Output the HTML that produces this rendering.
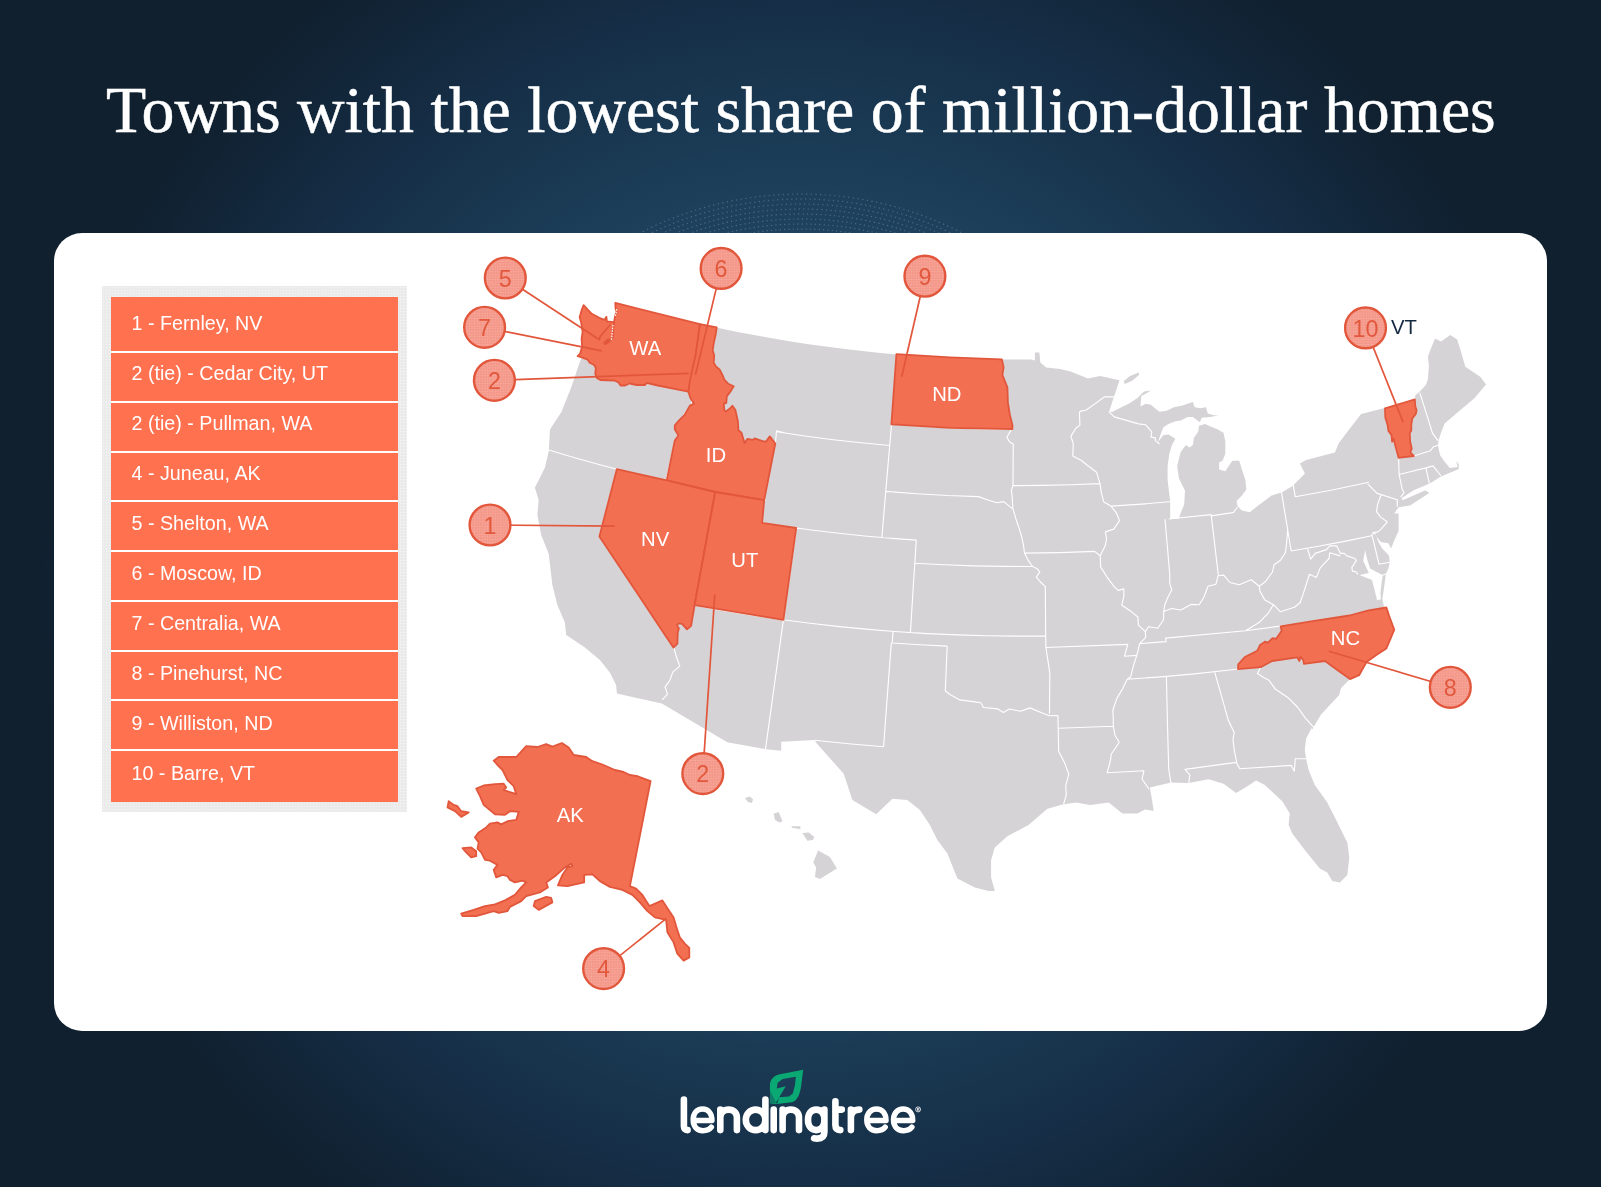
<!DOCTYPE html>
<html><head><meta charset="utf-8"><title>Towns with the lowest share of million-dollar homes</title>
<style>
html,body{margin:0;padding:0}
body{width:1601px;height:1187px;position:relative;overflow:hidden;font-family:"Liberation Sans",sans-serif;
background:#10202f radial-gradient(circle 760px at 800px 593px,#204863 0%,#1f4561 45%,#152d45 79%,#10202f 100%);}
#title{position:absolute;left:105.5px;top:70px;margin:0;font-family:"Liberation Serif",serif;font-weight:normal;font-size:65.8px;-webkit-text-stroke:0.5px #fff;line-height:80px;color:#fff;white-space:nowrap;letter-spacing:0}
#card{position:absolute;left:54px;top:233px;width:1493px;height:798px;background:#fff;border-radius:28px}
#frame{position:absolute;left:102px;top:286px;width:305px;height:526px;background:#ebebeb radial-gradient(circle,#f6f6f6 0.7px,rgba(246,246,246,0) 1px);background-size:3px 3px}
#list{position:absolute;left:111px;top:297px;width:287px;height:505px;background:#fff;margin:0;padding:0;list-style:none}
#list li{position:absolute;left:0;width:287px;background:#ff714f;color:#fff;font-size:19.7px;box-sizing:border-box;padding-left:20.5px;white-space:nowrap}
#map{position:absolute;left:0;top:0;will-change:transform}
#title,#list{will-change:transform}
.lbl{font-family:"Liberation Sans",sans-serif;font-size:20.3px;fill:#fff;text-anchor:middle}
.num{font-family:"Liberation Sans",sans-serif;font-size:23.3px;fill:#e2583d;text-anchor:middle}
</style></head><body>
<h1 id="title">Towns with the lowest share of million-dollar homes</h1>
<svg id="arcs" width="1601" height="1187" style="position:absolute;left:0;top:0"><g fill="none" stroke="#fff" stroke-opacity="0.2" stroke-width="1.4" stroke-linecap="round"><circle cx="801" cy="546" r="352" stroke-dasharray="0.1 4.60" stroke-dashoffset="0.0"/><circle cx="801" cy="546" r="347" stroke-dasharray="0.1 4.55" stroke-dashoffset="2.3"/><circle cx="801" cy="546" r="342" stroke-dasharray="0.1 4.50" stroke-dashoffset="0.0"/><circle cx="801" cy="546" r="337" stroke-dasharray="0.1 4.45" stroke-dashoffset="2.3"/><circle cx="801" cy="546" r="332" stroke-dasharray="0.1 4.40" stroke-dashoffset="0.0"/><circle cx="801" cy="546" r="327" stroke-dasharray="0.1 4.35" stroke-dashoffset="2.3"/><circle cx="801" cy="546" r="322" stroke-dasharray="0.1 4.30" stroke-dashoffset="0.0"/><circle cx="801" cy="546" r="317" stroke-dasharray="0.1 4.25" stroke-dashoffset="2.3"/></g></svg>
<div id="card"></div>
<div id="frame"></div>

<ul id="list">
<li style="top:0.00px;height:53.75px;line-height:22px;padding-top:15.37px">1 - Fernley, NV</li>
<li style="top:55.75px;height:48.00px;line-height:22px;padding-top:9.55px">2 (tie) - Cedar City, UT</li>
<li style="top:105.75px;height:48.00px;line-height:22px;padding-top:9.47px">2 (tie) - Pullman, WA</li>
<li style="top:155.75px;height:47.65px;line-height:22px;padding-top:9.40px">4 - Juneau, AK</li>
<li style="top:205.40px;height:47.80px;line-height:22px;padding-top:9.67px">5 - Shelton, WA</li>
<li style="top:255.20px;height:47.70px;line-height:22px;padding-top:9.79px">6 - Moscow, ID</li>
<li style="top:304.90px;height:47.80px;line-height:22px;padding-top:10.02px">7 - Centralia, WA</li>
<li style="top:354.70px;height:47.70px;line-height:22px;padding-top:10.14px">8 - Pinehurst, NC</li>
<li style="top:404.40px;height:47.90px;line-height:22px;padding-top:10.37px">9 - Williston, ND</li>
<li style="top:454.30px;height:50.50px;line-height:22px;padding-top:10.40px">10 - Barre, VT</li>
</ul>
<svg id="map" width="1601" height="1187" viewBox="0 0 1601 1187">
<defs><pattern id="dots" width="2.6" height="2.6" patternUnits="userSpaceOnUse"><rect width="2.6" height="2.6" fill="#f4988a"/><circle cx="1.3" cy="1.3" r="0.7" fill="#f9b0a3"/></pattern></defs>
<path d="M616.3,302.6 L631.3,306.8 L646.3,310.9 L661.4,314.8 L676.5,318.5 L691.6,322.1 L706.8,325.5 L722.0,328.8 L737.3,331.9 L752.6,334.8 L767.9,337.6 L783.2,340.2 L798.6,342.7 L814.0,345.0 L829.4,347.1 L844.9,349.0 L860.3,350.8 L875.8,352.4 L891.3,353.9 L906.8,355.2 L922.3,356.3 L937.9,357.3 L953.4,358.1 L969.0,358.7 L984.5,359.2 L1000.1,359.5 L1015.7,359.6 L1031.2,359.6 L1034.9,360.4 L1034.9,352.4 L1039.4,352.4 L1040.3,362.4 L1046.1,367.4 L1060.0,368.9 L1070.5,371.5 L1088.0,378.5 L1100.2,375.9 L1119.5,380.2 L1109.0,411.7 L1112.5,411.7 L1119.5,408.2 L1130.0,403.0 L1137.8,397.7 L1143.9,391.6 L1150.9,390.4 L1147.4,392.8 L1141.3,396.0 L1140.4,406.5 L1145.7,403.8 L1150.9,404.7 L1157.1,410.0 L1159.7,411.7 L1166.7,410.8 L1173.7,407.3 L1182.4,405.6 L1192.9,402.1 L1194.7,407.3 L1199.9,408.2 L1206.0,407.3 L1207.8,413.5 L1213.9,415.2 L1218.3,415.2 L1210.4,416.9 L1201.7,417.8 L1199.9,422.2 L1192.9,416.9 L1187.7,416.9 L1180.7,420.4 L1175.4,421.3 L1168.4,423.9 L1163.2,427.4 L1160.6,434.4 L1157.9,442.3 L1163.2,435.3 L1168.4,434.4 L1175.4,438.8 L1171.9,444.9 L1169.3,453.7 L1167.6,465.9 L1167.6,479.9 L1169.3,493.9 L1170.2,502.6 L1170.2,519.3 L1178.9,518.4 L1180.7,513.1 L1184.2,504.4 L1185.0,490.4 L1178.9,478.2 L1177.2,465.9 L1180.7,451.9 L1185.9,444.9 L1189.4,447.6 L1192.9,444.9 L1193.8,437.9 L1198.2,431.8 L1199.0,425.7 L1205.2,423.9 L1210.4,426.6 L1217.4,429.2 L1223.5,432.7 L1225.3,441.4 L1225.3,453.7 L1222.6,460.7 L1219.1,462.4 L1219.1,469.4 L1225.3,471.2 L1232.3,460.7 L1239.3,460.7 L1241.9,469.4 L1245.4,479.9 L1246.3,489.5 L1241.9,495.6 L1236.6,500.9 L1237.5,506.1 L1241.9,510.5 L1249.8,512.3 L1257.6,506.1 L1271.6,495.6 L1282.1,492.2 L1292.6,486.0 L1304.8,473.8 L1304.9,473.6 L1299.9,463.6 L1306.2,459.9 L1334.9,452.4 L1338.6,443.6 L1344.9,434.9 L1361.1,414.1 L1384.9,407.9 L1414.8,399.4 L1415.3,395.2 L1419.3,392.1 L1425.9,385.0 L1427.9,378.9 L1428.9,365.8 L1427.9,356.7 L1430.5,349.6 L1435.0,338.5 L1441.1,341.5 L1450.2,335.0 L1457.2,339.5 L1461.3,352.7 L1465.3,366.8 L1480.5,376.9 L1486.0,384.5 L1474.4,398.2 L1461.3,409.3 L1444.6,423.5 L1441.1,432.6 L1438.5,440.6 L1438.0,445.7 L1440.1,455.3 L1444.1,460.9 L1449.7,467.9 L1457.7,466.9 L1456.2,460.9 L1458.8,464.4 L1458.8,468.9 L1441.1,476.5 L1428.9,484.1 L1442.8,476.3 L1430.2,483.3 L1413.7,490.2 L1401.7,498.1 L1402.6,500.3 L1425.1,490.5 L1429.5,492.7 L1420.1,499.1 L1410.0,505.6 L1398.6,507.3 L1394.2,513.6 L1398.6,513.6 L1398.6,530.7 L1394.2,540.8 L1391.0,548.4 L1388.5,543.3 L1380.9,542.0 L1377.1,537.6 L1375.6,534.5 L1378.4,542.0 L1382.1,548.4 L1387.2,553.4 L1389.1,555.9 L1389.7,562.3 L1388.5,568.6 L1385.9,573.6 L1384.9,581.2 L1383.7,590.1 L1382.4,598.9 L1384.0,607.1 L1386.4,607.5 L1389.2,616.0 L1394.3,629.7 L1386.4,648.4 L1377.8,654.1 L1366.5,662.1 L1359.1,675.2 L1350.0,679.1 L1340.9,688.2 L1339.2,695.1 L1321.0,714.4 L1311.9,730.0 L1311.8,727.5 L1306.1,738.7 L1304.8,749.9 L1306.1,758.7 L1308.6,769.9 L1314.8,784.9 L1327.3,802.4 L1336.1,819.9 L1347.3,842.4 L1349.3,857.4 L1347.3,874.9 L1339.8,882.4 L1332.3,881.1 L1327.3,872.4 L1319.8,868.6 L1304.8,849.9 L1292.3,833.6 L1288.6,824.9 L1289.8,813.6 L1282.3,801.2 L1264.9,784.9 L1256.1,780.4 L1247.4,786.2 L1236.1,792.9 L1223.6,783.7 L1208.6,779.2 L1188.7,782.9 L1171.2,782.4 L1149.9,787.4 L1152.4,802.4 L1153.7,811.1 L1144.9,809.4 L1137.4,813.6 L1122.4,813.6 L1108.7,802.4 L1090.0,804.9 L1076.2,802.4 L1062.5,804.4 L1047.5,808.7 L1047.3,808.7 L1028.6,824.9 L1007.3,836.2 L994.8,847.4 L991.1,859.9 L991.1,877.4 L994.8,891.1 L988.6,891.1 L974.8,887.4 L957.4,878.6 L947.4,853.6 L937.4,839.9 L929.9,824.9 L919.9,809.9 L907.4,799.9 L892.4,798.7 L876.2,814.2 L852.4,799.9 L843.7,773.7 L813.7,740.0 L781.2,741.7 L781.2,750.7 L766.2,749.2 L727.3,742.3 L661.9,703.6 L616.9,693.6 L616.1,684.9 L609.9,672.4 L599.9,659.9 L584.9,647.4 L566.2,634.9 L564.9,622.4 L557.4,604.9 L552.4,584.9 L548.7,553.7 L541.2,535.0 L537.4,515.0 L538.7,500.0 L534.9,487.7 L545.0,467.5 L548.8,451.1 L550.0,429.6 L561.4,411.9 L571.5,386.7 L579.1,363.9 L581.6,357.6 L577.6,356.2 L580.1,353.7 L582.1,346.6 L581.6,338.5 L582.6,332.4 L582.1,328.4 L581.1,322.3 L579.6,317.3 L581.6,310.2 L583.6,305.2 L591.7,313.8 L599.3,317.8 L604.4,319.8 L606.4,316.8 L606.9,321.3 L611.4,321.8 L614.0,322.3 L615.0,316.3 L616.5,311.7 L615.5,308.2 L615.3,302.9Z" fill="#d5d3d5"/>
<path d="M1123.8,381.1 L1130.0,375.9 L1138.7,372.4 L1139.0,375.0 L1131.7,381.1 L1124.7,384.1Z" fill="#d5d3d5"/>
<path d="M745.0,797.9 L749.5,796.4 L753.0,798.9 L752.0,802.9 L748.0,801.9Z" fill="#d5d3d5"/>
<path d="M773.7,813.7 L778.7,811.9 L782.5,821.2 L779.5,822.4 L775.0,819.9Z" fill="#d5d3d5"/>
<path d="M791.2,826.2 L800.4,826.2 L800.4,828.9 L792.5,827.9Z" fill="#d5d3d5"/>
<path d="M802.4,832.9 L808.7,832.4 L814.4,836.9 L812.9,839.9 L807.4,840.7Z" fill="#d5d3d5"/>
<path d="M818.2,850.6 L829.9,856.9 L836.9,868.6 L819.9,879.1 L814.9,876.9 L816.2,867.4 L813.2,862.4Z" fill="#d5d3d5"/>
<path d="M1365.1,550.3 L1367.0,558.5 L1370.1,568.6 L1380.9,574.3 L1382.8,574.9 L1381.5,583.7 L1380.4,593.2 L1380.9,599.2 L1377.1,600.2 L1374.6,590.1 L1372.0,580.0 L1359.4,574.9 L1368.9,573.0 L1363.2,561.0Z" fill="#fff"/>
<path d="M547.9,449.8 L574.7,457.8 L601.7,465.2 L628.7,472.2 L655.9,478.7 L683.2,484.8 L710.6,490.4 L738.1,495.5 L765.7,500.1 M579.1,357.0 L586.9,358.8 L591.4,363.0 L595.7,365.5 L596.0,371.5 L595.7,377.0 L602.3,380.3 L610.2,379.1 L616.4,380.8 L620.6,383.9 L630.5,384.1 L645.5,383.7 L651.9,384.6 L655.8,383.9 L687.9,391.5 M687.9,391.5 L692.5,398.3 L691.0,405.1 L685.6,412.1 L682.2,418.4 L675.6,425.2 L676.2,430.1 L678.3,434.1 L675.0,440.4 L665.9,481.0 M616.8,469.2 L599.4,536.5 L674.1,648.5 M674.1,648.5 L676.1,656.0 L679.8,666.1 L672.9,671.9 L669.7,680.6 L665.1,686.8 L667.5,694.4 L662.1,699.9 M693.5,605.1 L722.6,610.4 L751.7,615.2 L780.9,619.5 L810.1,623.3 L839.5,626.6 L868.8,629.4 L898.2,631.8 L927.7,633.6 L957.2,634.9 L986.7,635.7 L1016.2,636.1 L1045.7,635.9 M783.4,619.8 L777.4,663.2 L771.4,706.5 L765.4,749.8 M762.1,522.9 L787.6,526.8 L813.3,530.3 L839.0,533.3 L864.7,536.0 L890.5,538.2 L916.3,540.1 M776.7,431.8 L804.8,436.0 L833.1,439.7 L861.4,442.8 L889.7,445.5 M897.5,354.4 L894.4,390.7 L891.3,427.2 L888.1,463.9 L885.0,500.6 L881.9,537.5 M796.2,528.0 L789.8,573.9 L783.4,619.8 M891.5,424.0 L921.5,426.2 L951.5,427.9 L981.5,428.9 L1011.5,429.4 M885.8,491.4 L916.7,493.7 L947.7,495.5 L978.6,496.6 M978.6,496.6 L988.6,500.3 L997.0,502.7 L1003.7,501.6 L1012.4,508.6 M916.3,540.1 L913.3,586.3 L910.4,632.6 M914.8,563.2 L944.2,564.8 L973.7,565.9 L1003.1,566.4 L1032.6,566.5 M893.1,631.4 L892.2,643.0 M892.2,643.0 L919.7,644.8 L947.2,646.1 M891.3,642.9 L888.7,677.6 L886.1,712.2 L883.6,746.7 M883.4,746.7 L848.9,743.8 L814.5,740.3 M814.5,740.3 L815.6,745.5 M947.2,646.1 L945.3,691.0 M945.3,691.0 L950.8,695.0 L960.0,699.9 L971.4,701.4 L980.8,702.8 L983.5,707.5 L997.8,708.9 L1003.4,712.4 L1009.2,709.0 L1020.5,711.3 L1030.0,707.9 L1043.4,713.5 L1049.5,715.7 L1057.9,715.6 L1058.2,728.3 M1045.9,647.5 L1049.8,672.9 L1049.5,713.7 M1032.6,566.5 L1037.2,568.8 L1039.8,572.2 L1036.4,576.9 L1040.0,581.5 L1045.3,586.7 L1045.7,635.9 L1045.9,647.5 M1012.9,508.6 L1016.3,520.2 L1018.8,527.2 L1021.9,537.6 L1023.5,545.7 L1024.5,553.1 L1028.4,560.7 L1032.6,566.5 M1024.5,553.1 L1059.6,552.6 L1094.6,551.4 M1094.6,551.4 L1100.2,555.8 M1013.0,485.6 L1042.0,485.4 L1071.0,484.8 L1100.0,483.6 M1011.5,429.4 L1006.8,437.2 L1009.5,441.8 L1013.2,444.1 L1013.0,485.6 L1011.4,490.2 L1012.2,497.1 L1012.9,508.6 M1082.4,410.8 L1079.4,412.0 L1079.9,425.1 L1075.9,428.2 L1070.8,436.4 L1073.2,443.2 L1072.8,455.9 L1081.1,460.2 L1087.9,465.7 L1096.5,472.2 L1100.0,483.6 M1100.0,483.6 L1101.3,492.8 L1103.8,501.9 L1111.0,506.1 L1116.3,512.8 L1119.6,520.7 L1113.8,529.1 L1105.4,531.9 L1106.6,538.8 L1105.2,545.8 L1100.2,555.8 L1100.6,566.9 L1107.8,578.2 L1114.5,587.1 L1118.2,590.4 L1123.8,588.9 L1123.9,595.8 L1121.8,605.2 L1131.2,611.6 L1137.9,617.0 L1138.4,625.1 L1145.3,631.6 M1111.0,506.1 L1141.6,504.1 L1172.2,501.5 M1165.0,519.3 L1169.8,574.9 L1169.7,583.1 L1171.7,589.9 L1167.9,597.2 L1164.9,604.5 L1163.7,611.5 M1211.3,515.9 L1218.4,575.7 M1168.8,519.0 L1211.2,514.6 L1211.3,515.9 L1234.1,512.4 M1145.3,631.6 L1148.6,626.7 L1157.8,628.3 L1163.5,619.7 L1163.7,611.5 L1171.6,608.5 L1180.8,610.0 L1191.1,604.4 L1199.2,604.7 L1203.9,597.2 L1208.0,586.3 L1215.9,584.2 L1218.1,575.8 L1223.7,575.1 L1230.0,582.5 L1239.3,584.8 L1251.2,579.7 L1259.3,586.3 L1265.8,581.2 L1272.5,572.0 L1274.1,564.7 L1280.5,560.2 L1285.5,552.4 L1286.6,542.8 L1287.7,529.9 M1281.1,489.8 L1291.2,551.0 M1291.2,551.0 L1318.4,546.3 L1345.6,541.1 L1372.7,535.5 M1292.5,480.8 L1295.3,496.8 M1295.3,496.8 L1332.2,490.0 L1368.9,482.3 M1259.3,586.3 L1260.0,591.4 L1264.9,600.1 L1273.4,604.7 L1267.8,613.7 L1259.8,621.9 L1245.7,630.8 M1273.4,604.7 L1280.4,611.8 L1294.4,607.3 L1300.9,602.0 M1282.0,625.9 L1245.7,630.8 L1165.6,638.1 L1166.2,641.6 L1139.7,643.6 M1127.2,679.2 L1160.8,676.9 L1194.3,673.9 L1227.8,670.3 L1261.2,666.1 M1261.2,666.1 L1257.5,673.6 L1263.7,677.4 L1268.9,680.2 L1274.9,688.7 L1287.7,697.4 L1297.9,707.5 L1305.4,718.1 L1313.7,727.3 M1214.8,672.3 L1228.2,719.9 L1234.2,732.4 L1233.0,739.6 L1234.4,751.0 L1236.7,762.3 M1166.4,676.4 L1167.5,725.1 L1168.7,769.0 L1171.4,786.1 M1145.3,631.6 L1145.7,637.4 L1139.7,643.6 L1138.3,649.5 L1136.8,655.4 L1133.7,664.9 L1130.7,676.7 L1127.2,679.2 L1122.6,688.8 L1116.9,698.4 L1112.8,710.2 L1113.3,719.4 L1113.3,726.3 L1115.1,735.5 L1119.3,742.2 L1111.2,754.2 L1110.5,760.0 L1107.2,772.8 L1143.9,770.8 L1142.1,779.0 L1149.1,789.3 M1045.9,647.5 L1127.8,644.4 L1124.5,656.2 L1136.8,655.4 M1058.2,728.3 L1113.3,726.3 M1058.2,728.3 L1058.7,751.4 L1064.6,762.8 L1068.8,774.2 L1065.7,785.8 L1066.3,795.0 L1063.6,804.2 M1188.7,782.9 L1189.9,774.9 L1184.9,769.4 L1236.1,762.4 L1239.9,768.7 L1291.1,765.4 L1294.3,771.2 L1295.3,758.7 L1306.1,758.7 M1419.8,392.6 L1432.5,433.1 L1438.0,440.6 M1413.8,456.0 L1430.5,450.7 L1433.5,446.7 L1438.0,445.2 M1399.1,474.5 L1425.9,467.9 L1433.0,465.9 L1441.1,476.0 M1425.9,467.9 L1429.4,483.6 M1398.6,457.8 L1399.1,474.5 L1402.2,489.2 L1404.2,492.7 L1400.6,497.2 M1366.4,482.6 L1377.1,493.4 L1397.3,499.7 L1397.3,506.7 M1380.9,495.3 L1377.7,504.1 L1376.5,511.7 L1380.9,517.4 L1387.2,521.8 L1380.9,529.4 L1377.7,531.9 L1373.3,532.6 L1375.6,534.5 M1373.3,532.6 L1372.0,535.1 L1379.0,564.2 L1389.7,562.3 M1307.6,549.0 L1310.7,559.1 L1315.2,553.4 L1326.5,549.6 L1329.7,545.8 L1336.7,545.8 L1340.4,553.4 L1344.2,553.4 L1346.8,555.9 L1355.0,558.5 L1356.2,560.4 L1353.7,564.8 L1351.8,567.3 L1352.4,571.1 L1355.6,571.7 L1358.1,574.3 M1340.4,555.9 L1329.7,552.8 L1329.1,558.5 L1320.2,567.9 L1316.4,577.4 L1309.5,574.3 L1303.2,593.9 L1300.0,602.7 M1382.8,575.2 L1385.7,573.9 M775.5,442.7 L776.5,430.8 L785.5,433.1 M1109.0,411.7 L1114.2,416.9 L1138.7,423.9 L1145.7,424.8 L1151.8,431.8 L1150.9,437.1 L1155.3,437.9 L1155.3,440.6 L1159.7,444.1 M1115.6,396.8 L1104.6,396.8 L1092.4,405.6 L1086.2,410.0 L1080.1,411.4 M1233.1,512.8 L1237.5,507.0" fill="none" stroke="#fff" stroke-width="1.15" stroke-linejoin="round"/>
<path d="M615.3,302.9 L699.9,324.2 L697.3,346.6 L692.8,370.9 L689.3,387.0 L688.3,391.6 L657.9,385.5 L646.8,383.0 L644.8,385.0 L636.7,385.0 L629.6,383.5 L625.1,385.5 L620.5,385.5 L618.5,382.5 L614.5,380.5 L600.3,380.0 L596.8,377.9 L595.3,373.9 L595.8,367.8 L593.8,364.8 L589.7,362.8 L587.7,359.7 L581.1,357.2 L577.6,356.2 L580.1,353.7 L582.1,346.6 L581.6,338.5 L582.6,332.4 L582.1,328.4 L581.1,322.3 L579.6,317.3 L581.6,310.2 L583.6,305.2 L591.7,313.8 L599.3,317.8 L604.4,319.8 L606.4,316.8 L606.9,321.3 L611.4,321.8 L614.0,322.3 L615.0,316.3 L616.5,311.7 L615.5,308.2Z" fill="#f26f51" stroke="#e2573c" stroke-width="1.8" stroke-linejoin="round"/>
<path d="M700.0,324.1 L716.7,327.4 L715.5,335.3 L713.7,343.4 L712.7,350.4 L714.2,355.5 L713.7,362.6 L715.7,366.1 L719.7,369.6 L722.3,374.7 L724.3,379.7 L728.3,383.8 L733.7,386.3 L730.9,390.9 L726.8,396.4 L726.3,403.0 L723.8,403.5 L724.3,410.1 L725.8,411.6 L729.8,408.5 L732.4,405.8 L735.4,410.1 L737.9,421.2 L738.4,430.3 L741.5,432.8 L744.5,443.0 L747.5,438.9 L752.6,439.9 L754.6,438.4 L763.2,441.4 L766.2,441.4 L769.8,436.4 L775.3,443.5 L764.2,500.1 L715.2,492.0 L666.7,480.4 L674.8,440.4 L678.3,435.4 L674.8,429.3 L674.8,425.3 L679.3,420.2 L684.4,415.2 L689.9,405.6 L694.0,403.5 L690.4,397.9 L688.4,391.9 L689.9,380.7 L695.5,355.5Z" fill="#f26f51" stroke="#e2573c" stroke-width="1.8" stroke-linejoin="round"/>
<path d="M616.8,469.2 L666.7,480.4 L715.2,492.0 L694.6,605.2 L691.1,625.9 L687.0,629.4 L682.0,623.9 L678.9,623.4 L676.9,624.9 L678.9,628.4 L677.7,633.0 L677.4,643.6 L673.4,647.6 L599.4,536.5Z" fill="#f26f51" stroke="#e2573c" stroke-width="1.8" stroke-linejoin="round"/>
<path d="M715.2,492.0 L764.2,500.1 L762.1,522.9 L796.2,528.0 L783.4,619.8 L694.6,605.2Z" fill="#f26f51" stroke="#e2573c" stroke-width="1.8" stroke-linejoin="round"/>
<path d="M896.4,354.2 L949.9,357.4 L1001.9,359.4 L1003.6,367.4 L1002.4,374.9 L1007.4,387.4 L1007.9,402.4 L1009.9,414.9 L1012.4,424.9 L1012.4,429.1 L949.9,427.9 L891.4,424.4Z" fill="#f26f51" stroke="#e2573c" stroke-width="1.8" stroke-linejoin="round"/>
<path d="M1280.6,626.3 L1309.6,621.7 L1349.4,615.5 L1368.7,610.4 L1386.4,607.5 L1389.2,616.0 L1394.3,629.7 L1386.4,648.4 L1377.8,654.1 L1366.5,662.1 L1359.1,675.2 L1350.0,679.1 L1338.0,670.6 L1325.0,661.0 L1303.9,663.8 L1303.3,659.8 L1300.5,657.0 L1299.4,661.0 L1297.1,657.3 L1272.1,661.0 L1260.7,667.2 L1238.0,669.1 L1238.2,664.4 L1244.8,657.0 L1257.3,650.7 L1260.1,645.0 L1265.3,641.6 L1267.5,642.8 L1272.6,638.2 L1276.1,638.8 L1281.7,630.8Z" fill="#f26f51" stroke="#e2573c" stroke-width="1.8" stroke-linejoin="round"/>
<path d="M1385.0,408.3 L1414.8,399.4 L1415.3,406.3 L1416.6,410.3 L1415.8,413.9 L1412.3,418.4 L1411.3,424.5 L1411.3,430.5 L1409.7,433.1 L1410.2,441.7 L1411.8,448.7 L1410.2,452.3 L1413.8,456.0 L1398.6,457.8 L1395.1,444.7 L1393.6,438.6 L1392.1,441.7 L1391.5,435.1 L1388.5,431.0 L1387.5,424.5 L1385.3,417.4Z" fill="#f26f51" stroke="#e2573c" stroke-width="1.8" stroke-linejoin="round"/>
<path d="M493.7,760.7 L498.7,757.0 L516.2,757.0 L526.2,746.2 L537.4,747.0 L546.2,744.2 L552.4,746.7 L561.9,743.0 L568.7,747.5 L573.7,755.0 L586.2,757.0 L592.4,761.2 L602.4,764.5 L614.9,770.0 L623.6,772.0 L629.9,775.0 L637.4,776.2 L650.6,781.2 L629.9,886.1 L636.1,888.6 L642.4,894.9 L649.4,906.1 L662.4,900.4 L668.6,909.9 L673.6,917.4 L677.3,929.9 L679.8,937.4 L684.8,943.6 L689.3,947.9 L689.3,957.4 L683.6,960.6 L677.3,953.6 L673.6,942.4 L667.4,932.4 L666.1,919.9 L654.9,917.4 L647.4,911.1 L639.9,902.4 L632.4,894.9 L622.4,889.9 L609.9,886.9 L599.9,881.1 L592.4,874.4 L584.2,874.9 L584.2,882.4 L567.4,886.1 L557.9,885.4 L562.4,874.9 L567.4,867.4 L572.4,866.2 L571.2,863.7 L564.9,867.4 L554.9,876.2 L546.2,882.4 L547.9,887.4 L539.9,892.4 L526.2,896.1 L521.2,901.1 L510.0,906.9 L507.5,911.1 L498.7,912.9 L493.7,911.1 L476.2,916.1 L462.5,916.1 L461.2,913.6 L473.7,909.9 L485.0,906.1 L495.0,904.4 L505.0,900.4 L514.9,894.9 L521.2,887.4 L526.2,882.4 L522.4,880.6 L514.9,882.4 L510.0,879.9 L507.5,876.2 L502.5,874.9 L496.2,877.4 L493.7,869.9 L497.5,864.9 L490.0,860.7 L485.0,859.9 L481.2,852.4 L477.5,848.7 L478.7,842.4 L475.0,837.4 L478.7,832.4 L486.2,827.4 L490.0,823.7 L497.5,822.4 L501.2,824.4 L507.5,821.2 L516.2,819.9 L518.7,811.9 L510.0,811.2 L505.0,814.9 L495.0,814.4 L483.7,804.9 L480.0,796.2 L476.2,788.7 L483.7,785.5 L495.0,784.2 L503.7,783.7 L506.2,787.5 L503.7,790.0 L516.2,794.2 L513.7,786.2 L507.5,780.0 L502.5,770.0 L497.5,765.0Z" fill="#f26f51" stroke="#e2573c" stroke-width="1.8" stroke-linejoin="round"/>
<path d="M448.7,801.2 L453.7,804.9 L457.5,806.2 L461.2,811.2 L468.7,812.4 L461.2,816.9 L455.0,811.2 L447.5,807.4Z" fill="#f26f51" stroke="#e2573c" stroke-width="1.8" stroke-linejoin="round"/>
<path d="M462.5,848.2 L471.2,847.4 L476.2,851.2 L476.2,856.2 L471.2,857.4 L466.2,852.4Z" fill="#f26f51" stroke="#e2573c" stroke-width="1.8" stroke-linejoin="round"/>
<path d="M534.9,901.1 L546.2,896.9 L551.2,897.9 L552.4,902.4 L538.7,909.9 L533.7,906.1Z" fill="#f26f51" stroke="#e2573c" stroke-width="1.8" stroke-linejoin="round"/>
<path d="M610.4,324.4 L600.3,336.5 L599.3,339.5" fill="none" stroke="#e2573c" stroke-width="1.6"/>
<path d="M614.0,322.3 L613.3,330.4 L612.7,338.5 L610.4,341.0" fill="none" stroke="#e2573c" stroke-width="1.6"/>
<path d="M603.4,342.6 L606.9,339.0 L610.4,338.3 L610.2,342.1 L605.9,345.1 L603.9,344.6Z" fill="#e2573c"/>
<path d="M616.7,309.2 L616.1,313.2 L615.2,316.5" fill="none" stroke="#fff" stroke-width="1.2" stroke-dasharray="1.5 1.2"/>
<path d="M613.0,324.9 L612.2,332.4 L611.6,339.5 L610.2,340.5" fill="none" stroke="#fff" stroke-width="1.2" stroke-dasharray="1.5 1.2"/>
<line x1="505.3" y1="278.0" x2="599.8" y2="340.0" stroke="#e2573c" stroke-width="1.7"/>
<line x1="484.6" y1="327.3" x2="601.8" y2="350.9" stroke="#e2573c" stroke-width="1.7"/>
<line x1="494.4" y1="380.3" x2="688.8" y2="373.4" stroke="#e2573c" stroke-width="1.7"/>
<line x1="721.1" y1="268.4" x2="695.5" y2="374.7" stroke="#e2573c" stroke-width="1.7"/>
<line x1="924.9" y1="276.2" x2="901.7" y2="376.7" stroke="#e2573c" stroke-width="1.7"/>
<line x1="1365.5" y1="327.9" x2="1403.2" y2="422.4" stroke="#e2573c" stroke-width="1.7"/>
<line x1="490" y1="525" x2="614.9" y2="526.2" stroke="#e2573c" stroke-width="1.7"/>
<line x1="702.8" y1="773.6" x2="714.8" y2="594.4" stroke="#e2573c" stroke-width="1.7"/>
<line x1="1450.3" y1="687.3" x2="1328.9" y2="651.3" stroke="#e2573c" stroke-width="1.7"/>
<line x1="603.6" y1="968.6" x2="666.1" y2="918.6" stroke="#e2573c" stroke-width="1.7"/>
<circle cx="505.3" cy="278.0" r="20.4" fill="url(#dots)" stroke="#e2573c" stroke-width="2.4"/>
<text class="num" x="505.3" y="286.6">5</text>
<circle cx="484.6" cy="327.3" r="20.4" fill="url(#dots)" stroke="#e2573c" stroke-width="2.4"/>
<text class="num" x="484.6" y="335.90000000000003">7</text>
<circle cx="494.4" cy="380.3" r="20.4" fill="url(#dots)" stroke="#e2573c" stroke-width="2.4"/>
<text class="num" x="494.4" y="388.90000000000003">2</text>
<circle cx="721.1" cy="268.4" r="20.4" fill="url(#dots)" stroke="#e2573c" stroke-width="2.4"/>
<text class="num" x="721.1" y="277.0">6</text>
<circle cx="924.9" cy="276.2" r="20.4" fill="url(#dots)" stroke="#e2573c" stroke-width="2.4"/>
<text class="num" x="924.9" y="284.8">9</text>
<circle cx="1365.5" cy="327.9" r="20.4" fill="url(#dots)" stroke="#e2573c" stroke-width="2.4"/>
<text class="num" x="1365.5" y="336.5">10</text>
<circle cx="490" cy="525" r="20.4" fill="url(#dots)" stroke="#e2573c" stroke-width="2.4"/>
<text class="num" x="490" y="533.6">1</text>
<circle cx="702.8" cy="773.6" r="20.4" fill="url(#dots)" stroke="#e2573c" stroke-width="2.4"/>
<text class="num" x="702.8" y="782.2">2</text>
<circle cx="1450.3" cy="687.3" r="20.4" fill="url(#dots)" stroke="#e2573c" stroke-width="2.4"/>
<text class="num" x="1450.3" y="695.9">8</text>
<circle cx="603.6" cy="968.6" r="20.4" fill="url(#dots)" stroke="#e2573c" stroke-width="2.4"/>
<text class="num" x="603.6" y="977.2">4</text>
<text class="lbl" x="645.3" y="354.7">WA</text>
<text class="lbl" x="716" y="461.5">ID</text>
<text class="lbl" x="655.2" y="545.7">NV</text>
<text class="lbl" x="744.8" y="566.7">UT</text>
<text class="lbl" x="946.8" y="401.1">ND</text>
<text class="lbl" x="1345.4" y="644.5">NC</text>
<text class="lbl" x="570.2" y="821.7">AK</text>
<text class="lbl" x="1391" y="334" style="fill:#14283f;text-anchor:start">VT</text>
<path d="M 769.93,1103.52 L 769.93,1085.02 C 770.16,1078.95 774.40,1075.16 781.23,1074.03 L 803.21,1069.70 L 801.55,1082.74 C 800.56,1092.60 797.91,1100.94 791.84,1102.15 L 777.06,1103.97 Z" fill="#0aa873"/>
<path d="M776.8,1088.4 L777.6,1082.7 L782.7,1079.0 L795.8,1076.8 L795.0,1085.0 L792.8,1093.4 L789.0,1096.5 L779.0,1097.3 L777.3,1103.5 L775.8,1103.1 L785.0,1087.4 L785.9,1086.2Z" fill="#1b3b57"/>
<path d="M769.9,1103.7 L769.9,1090.3 L776.1,1102.6Z" fill="#1b3b57" fill-opacity="0.4"/>
<path d="M683.9,1099.5 V1126.1 Q683.9,1130.1 687.6,1130.1 M720.3,1109.6 V1130.1 M720.3,1117.6 C720.3,1112.6 723.8,1109.6 728.5999999999999,1109.6 C733.4,1109.6 736.9,1112.6 736.9,1117.6 V1130.1 M765.4,1099.5 V1130.1 M765.4,1119.85 C765.4,1113.6499999999999 760.5999999999999,1109.6 755.5999999999999,1109.6 C750.5999999999999,1109.6 745.8,1113.6499999999999 745.8,1119.85 C745.8,1126.05 750.5999999999999,1130.1 755.5999999999999,1130.1 C760.5999999999999,1130.1 765.4,1126.05 765.4,1119.85 M773.7,1109.6 V1130.1 M782.6,1109.6 V1130.1 M782.6,1117.6 C782.6,1112.6 786.1,1109.6 790.8,1109.6 C795.5,1109.6 799.0,1112.6 799.0,1117.6 V1130.1 M824.4,1119.85 C824.4,1113.6499999999999 821.2,1109.6 816.2,1109.6 C811.2,1109.6 808.0,1113.6499999999999 808.0,1119.85 C808.0,1126.05 811.2,1130.1 816.2,1130.1 C821.2,1130.1 824.4,1126.05 824.4,1119.85 M824.4,1109.6 V1132.1 C824.4,1137.1 821.2,1138.6 817.2,1138.6 C816,1138.6 815,1138.5 814.1,1138.3 M835.4,1101.4 V1125.1 Q835.4,1130.1 840.3,1130.1 M835.4,1109.6 H841.8 M850.9,1109.6 V1130.1 M850.9,1117.6 C850.9,1112.3999999999999 854.3,1109.6 859.3,1109.6" fill="none" stroke="#fff" stroke-width="6.6" stroke-linecap="round" stroke-linejoin="round"/>
<path d="M693.8,1120.4499999999998 H711.9 C711.9,1113.4499999999998 708.3499999999999,1109.05 702.55,1109.05 C696.75,1109.05 693.1999999999999,1113.6499999999999 693.1999999999999,1119.85 C693.1999999999999,1126.25 696.75,1130.65 702.8499999999999,1130.65 C706.75,1130.65 709.55,1129.5500000000002 711.3499999999999,1127.15 M867.4,1120.4499999999998 H886.0 C886.0,1113.4499999999998 882.1999999999999,1109.05 876.4,1109.05 C870.6,1109.05 866.8,1113.6499999999999 866.8,1119.85 C866.8,1126.25 870.6,1130.65 876.6999999999999,1130.65 C880.6,1130.65 883.4,1129.5500000000002 885.1999999999999,1127.15 M894.1,1120.4499999999998 H912.7 C912.7,1113.4499999999998 908.9,1109.05 903.1,1109.05 C897.3000000000001,1109.05 893.5,1113.6499999999999 893.5,1119.85 C893.5,1126.25 897.3000000000001,1130.65 903.4,1130.65 C907.3000000000001,1130.65 910.1,1129.5500000000002 911.9,1127.15" fill="none" stroke="#fff" stroke-width="5.5" stroke-linecap="round" stroke-linejoin="round"/>
<circle cx="918.1" cy="1109.4" r="2.5" fill="none" stroke="#fff" stroke-width="0.8"/><text x="918.1" y="1111" font-size="4" font-family="Liberation Sans" font-weight="bold" fill="#fff" text-anchor="middle">R</text>
</svg>
</body></html>
